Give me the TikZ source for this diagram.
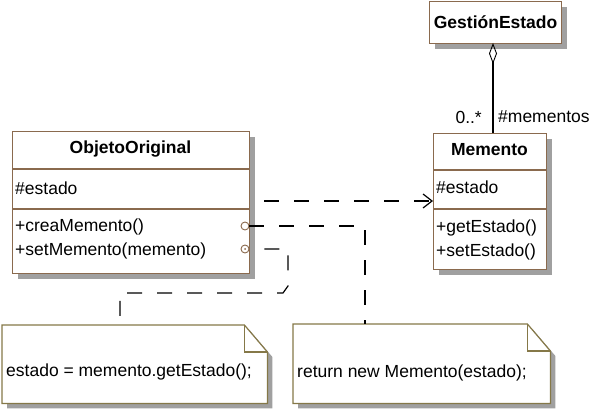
\documentclass[tikz,border=0pt]{standalone}
\usepackage{fontspec}
\setmainfont{Liberation Sans}
\usetikzlibrary{arrows.meta,calc}
\definecolor{clsborder}{RGB}{138,106,78}
\definecolor{noteborder}{RGB}{133,120,72}
\definecolor{shadowgray}{RGB}{160,160,160}
\tikzset{
  classbox/.style={draw=clsborder, line width=1.2pt, fill=white, anchor=north west, inner sep=0pt},
  divider/.style={draw=clsborder, line width=1.2pt},
  shadowbox/.style={fill=shadowgray, draw=none},
  txt/.style={anchor=west, inner sep=0pt, font=\fontsize{17.5}{20}\selectfont},
  btxt/.style={inner sep=0pt, font=\fontsize{17.5}{20}\selectfont\bfseries},
  dep/.style={draw=black, line width=1.2pt, dash pattern=on 15pt off 15pt},
  notearea/.style={anchor=north west, inner sep=0pt, draw=none},
  noteline/.style={draw=noteborder, line width=1.2pt, fill=white},
  port/.style={circle, draw=clsborder, fill=white, line width=0.9pt, minimum size=8pt, inner sep=0pt},
}
\begin{document}
\begin{tikzpicture}[x=1pt,y=-1pt]
\useasboundingbox (0,0) rectangle (590,409);

% shadows of the classes
\path[shadowbox] (435,7) rectangle (567,49);
\path[shadowbox] (18,137) rectangle (255,279);
\path[shadowbox] (439,139) rectangle (552,275);

% GestionEstado
\node[classbox, minimum width=132pt, minimum height=42pt] (ge) at (429,1) {};
\node[btxt] (getitle) at ($(ge.north)+(0,21)$) {GestiónEstado};

% ObjetoOriginal
\node[classbox, minimum width=237pt, minimum height=142pt] (oo) at (12,131) {};
\draw[divider] (12,169) -- (249,169);
\draw[divider] (12,209) -- (249,209);
\node[btxt] (ootitle) at (130.5,149) {ObjetoOriginal};
\node[txt] (ooattr) at (15,188) {\#estado};
\node[txt] (oom1) at (15,227) {+creaMemento()};
\node[txt] (oom2) at (15,251) {+setMemento(memento)};

% Memento
\node[classbox, minimum width=113pt, minimum height=136pt] (mem) at (433,133) {};
\draw[divider] (433,170) -- (546,170);
\draw[divider] (433,209) -- (546,209);
\node[btxt] (memtitle) at (489.5,150) {Memento};
\node[txt] (memattr) at (436,187) {\#estado};
\node[txt] (memm1) at (436,228) {+getEstado()};
\node[txt] (memm2) at (436,252) {+setEstado()};

% aggregation
\coordinate (agtop) at (493,43);
\coordinate (agbot) at (493,133);
\draw[line width=1.2pt, {Diamond[open, length=21pt, width=8pt, line width=0.9pt]}-] (agtop) -- (agbot);
\node[txt, anchor=east] (mult) at (482,117) {0..*};
\node[txt] (role) at (498,117) {\#mementos};

% notes
\node[notearea, minimum width=265pt, minimum height=78pt] (n1) at (2,325) {};
\node[notearea, minimum width=257pt, minimum height=79pt] (n2) at (293,324) {};
\foreach \n in {n1,n2}{
  \path[shadowbox] ($(\n.north west)+(5,5)$) -- ($(\n.north east)+(-18,5)$) -- ($(\n.north east)+(5,32)$) -- ($(\n.south east)+(5,5)$) -- ($(\n.south west)+(5,5)$) -- cycle;
  \draw[noteline] (\n.north west) -- ($(\n.north east)+(-23,0)$) -- ($(\n.north east)+(0,27)$) -- (\n.south east) -- (\n.south west) -- cycle;
  \draw[noteline, fill=none] ($(\n.north east)+(-23,0)$) -- ($(\n.north east)+(-23,27)$) -- ($(\n.north east)+(0,27)$);
}
\node[txt] (n1text) at (6,372) {estado = memento.getEstado();};
\node[txt] (n2text) at (297,373) {return new Memento(estado);};

% ports
\node[port] (p1) at (245,226) {};
\node[port] (p2) at (245,249) {};
\fill[clsborder] (p2.center) circle (1pt);

% dependency arrow
\coordinate (arrs) at (249,201);
\coordinate (arre) at (433,201);
\draw[dep, dash phase=15pt, -{Straight Barb[length=9pt, width=14pt, line width=1.2pt]}] (arrs) -- (arre);

% note links
\draw[dep] (p1.east) -- (365,226) -- (n2.north -| 365,0);
\draw[dep, dash phase=15pt] (p2.east) -- (288,249) -- (288,286) -- (283,293) -- (120,293) -- (n1.north -| 120,0);
\end{tikzpicture}
\end{document}
